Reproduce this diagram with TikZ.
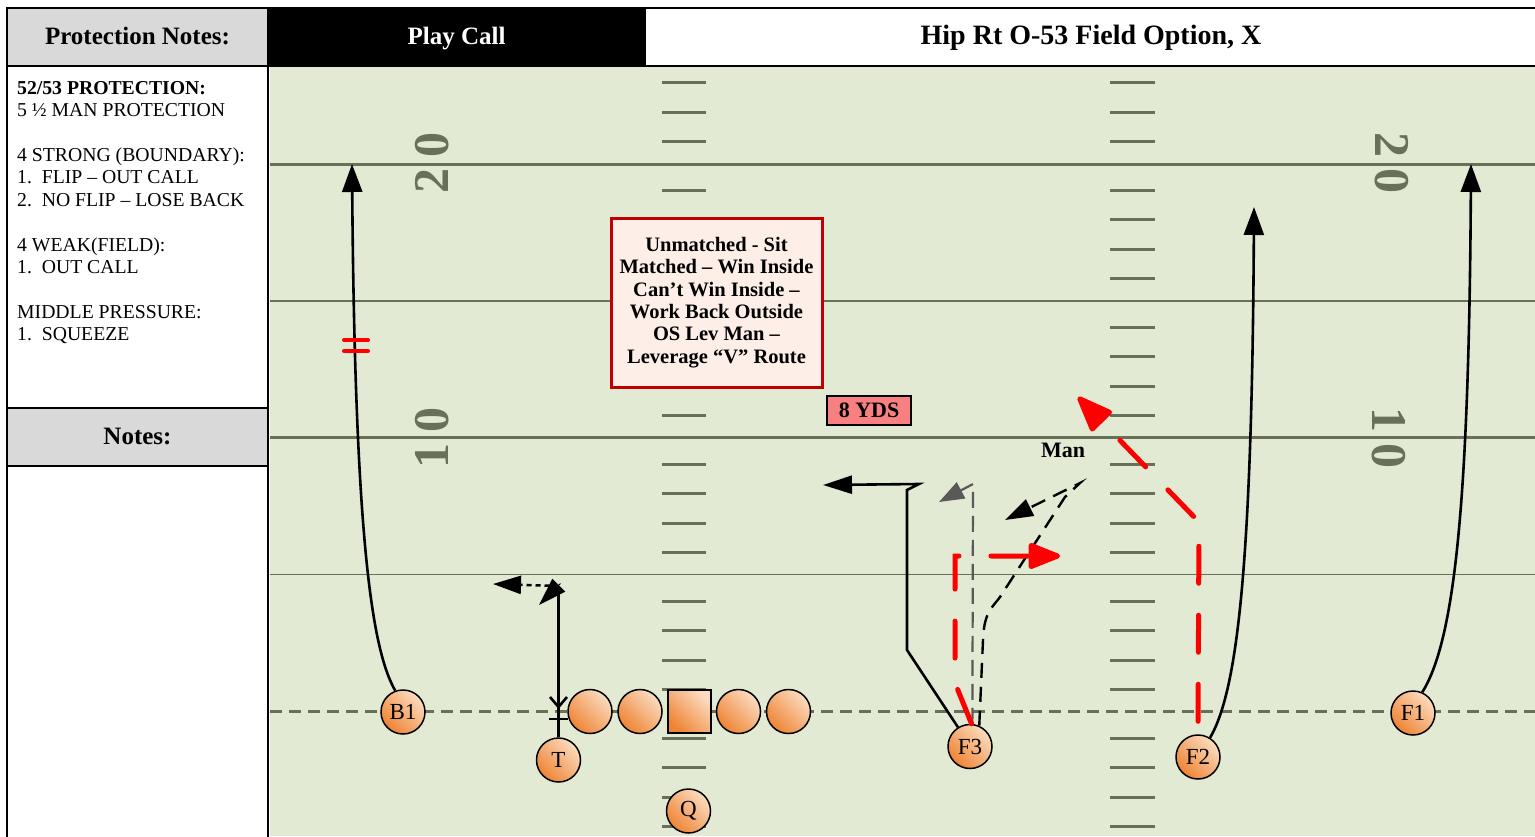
\documentclass[tikz,border=0pt]{standalone}
\usepackage{fontspec}
\setmainfont{Liberation Serif}
\usepackage{tikz}
\usetikzlibrary{arrows.meta}
\usepackage{xcolor}

\definecolor{turf}{HTML}{E2EAD4}
\definecolor{chalk}{HTML}{697058}
\definecolor{headgray}{HTML}{D9D9D9}
\definecolor{noteback}{HTML}{FDEFE7}
\definecolor{notered}{HTML}{C00000}
\definecolor{ydsred}{HTML}{F98080}
\definecolor{plylight}{HTML}{FBDCC0}
\definecolor{plydark}{HTML}{EE8434}
\definecolor{ghost}{HTML}{595959}

\begin{document}
\begin{tikzpicture}[x=1pt, y=-1pt,
  cell/.style={draw, line width=2pt, minimum height=58pt, inner sep=0pt,
               text height=18pt, text depth=4pt,
               font=\fontsize{25}{30}\selectfont\bfseries},
  player/.style={circle, draw, line width=1.5pt, minimum size=44pt, inner sep=0pt,
                 top color=plylight, bottom color=plydark, shading angle=-45,
                 font=\fontsize{23}{26}\selectfont},
  snapper/.style={player, rectangle, minimum size=43pt},
  yardline/.style={chalk, line width=#1},
  hash/.style={chalk, line width=3pt},
  yardnum/.style={chalk, inner sep=0pt, font=\fontsize{50}{50}\selectfont\bfseries},
  callfont/.style={font=\fontsize{20.5}{22.4}\selectfont\bfseries},
  tagfont/.style={font=\fontsize{22}{24}\selectfont\bfseries},
  route/.style={line width=2.6pt, -{Triangle[length=28pt, width=20pt]}},
  dotroute/.style={line width=2.6pt, dash pattern=on 5pt off 4pt,
                   -{Triangle[length=28pt, width=18pt]}},
  readroute/.style={line width=2.4pt, dash pattern=on 15pt off 9pt,
                    -{Triangle[length=28pt, width=18pt]}},
  grayroute/.style={ghost, line width=2.2pt, dash pattern=on 16pt off 8pt,
                    -{Triangle[length=25pt, width=18pt]}},
  redroute/.style={red, line width=5pt, line cap=round, dash pattern=on 37pt off 32pt,
                   -{Triangle[length=36pt, width=27pt, round=false]}},
]
  \useasboundingbox (0,0) rectangle (1535,836);

  % field
  \fill[turf] (270,66) rectangle (1535,836);
  \foreach \yy/\w in {164/3pt, 301/1.5pt, 437.5/3pt, 574.5/1.5pt}
    \draw[yardline=\w] (270,\yy) -- (1535,\yy);
  \foreach \k in {0,...,5}
    \foreach \d in {26,55,85,114} {
      \draw[hash] (662,{27+137*\k+\d}) -- ++(44,0);
      \draw[hash] (1110,{27+137*\k+\d}) -- ++(45,0);
    }
  \draw[yardline=3pt, dash pattern=on 12pt off 7pt] (270,711.5) -- (1535,711.5);

  \node[yardnum, rotate=90]  (numLa) at (432,163)   {2\hspace{11pt}0};
  \node[yardnum, rotate=90]  (numLb) at (432,437.5) {1\hspace{11pt}0};
  \node[yardnum, rotate=-90] (numRa) at (1392,163)  {2\hspace{11pt}0};
  \node[yardnum, rotate=-90] (numRb) at (1389,437.5) {1\hspace{11pt}0};

  % header and notes column
  \draw[line width=2pt, fill=white] (7,66) rectangle (268,850);
  \node[cell, fill=headgray, minimum width=261pt] (prot) at (137.5,37) {Protection Notes:};
  \node[cell, fill=black, text=white, minimum width=377pt] (play) at (456.5,37) {Play Call};
  \node[cell, fill=white, minimum width=892pt, font=\fontsize{28}{32}\selectfont\bfseries]
    (title) at (1091,37) {Hip Rt O-53 Field Option, X};
  \node[cell, fill=headgray, minimum width=261pt] (notes) at (137.5,437) {Notes:};

  \node[anchor=north west, align=left, inner sep=0pt, font=\fontsize{19.7}{22.4}\selectfont]
    (protlist) at (17,81) {\textbf{52/53 PROTECTION:}\\ 5 ½ MAN PROTECTION\\[22.4pt]
      4 STRONG (BOUNDARY):\\ 1.\ \ FLIP – OUT CALL\\ 2.\ \ NO FLIP – LOSE BACK\\[22.4pt]
      4 WEAK(FIELD):\\ 1.\ \ OUT CALL\\[22.4pt]
      MIDDLE PRESSURE:\\ 1.\ \ SQUEEZE};

  % coaching points
  \node[callfont, draw=notered, line width=3pt, fill=noteback, align=center,
        minimum width=211pt, minimum height=169pt] (callout) at (716.5,302.5)
    {Unmatched - Sit\\ Matched – Win Inside\\ Can’t Win Inside –\\ Work Back Outside\\
     OS Lev Man –\\ Leverage “V” Route};
  \node[tagfont, draw, line width=2pt, fill=ydsred, inner sep=0pt,
        minimum width=84pt, minimum height=29pt] (yds) at (869,410.5) {8 YDS};
  \node[tagfont] (man) at (1063,450) {Man};

  % players
  \node[player]  (B1)  at (403,712)     {B1};
  \node[player]  (T)   at (558.5,760)   {T};
  \node[player]  (lt)  at (590,711.5)   {};
  \node[player]  (lg)  at (640,711.5)   {};
  \node[snapper] (cen) at (689.5,711.5) {};
  \node[player]  (rg)  at (738.5,711.5) {};
  \node[player]  (rt)  at (788.5,711.5) {};
  \node[player]  (Q)   at (688.5,811)   {Q};
  \node[player]  (F3)  at (970,746.5)   {F3};
  \node[player]  (F2)  at (1198,757)    {F2};
  \node[player]  (F1)  at (1413,713)    {F1};

  \coordinate (b1End) at (352,164);
  \coordinate (tTop)  at (558.5,586);
  \coordinate (tBack) at (539,605);
  \coordinate (tOut)  at (493,584);
  \coordinate (f3Out) at (823,485);
  \coordinate (f3Sit) at (939,502);
  \coordinate (f3In)  at (1005,520);
  \coordinate (f3Red) at (1060,556);
  \coordinate (f2Red) at (1078,397);
  \coordinate (f2End) at (1254,207);
  \coordinate (f1End) at (1471,164);

  % routes
  \draw[route] (B1.110) .. controls (372,650) and (355,540) .. (b1End);
  \draw[red, line width=4pt, line cap=round] (344,340) -- (368,340) (344,351) -- (368,351);

  \draw[line width=2.6pt] (T) -- (tTop);
  \draw[line width=2.6pt] (550,697) -- (558.5,707) -- (567,697);
  \draw[line width=2.6pt] (549,719) -- (568,719);
  \draw[line width=1pt, -{Triangle[length=28pt, width=18pt]}] (560.5,583.5) -- (tBack);
  \draw[dotroute] (tTop) -- (tOut);

  \draw[route, -{Triangle[length=29pt, width=18pt]}]
    (F3.122) -- (907,650) -- (907,490) -- (919,484) -- (f3Out);
  \draw[grayroute] (F3.84) -- (973,484) -- (f3Sit);
  \draw[readroute] (F3.66) -- (983,640) .. controls (984,612) and (992,608) .. (1000,597)
    -- (1065,497) -- (1080,483) -- (f3In);
  \draw[redroute] (F3.86) -- (955,683) -- (955,556) -- (f3Red);

  \draw[redroute, shorten <=13pt, -{Triangle[length=40pt, width=30pt, round=false]}]
    (F2.north) -- (1199,522) -- (f2Red);
  \draw[route] (F2.58) .. controls (1238,690) and (1252,560) .. (f2End);
  \draw[route] (F1.66) .. controls (1455,640) and (1469,500) .. (f1End);
\end{tikzpicture}
\end{document}
